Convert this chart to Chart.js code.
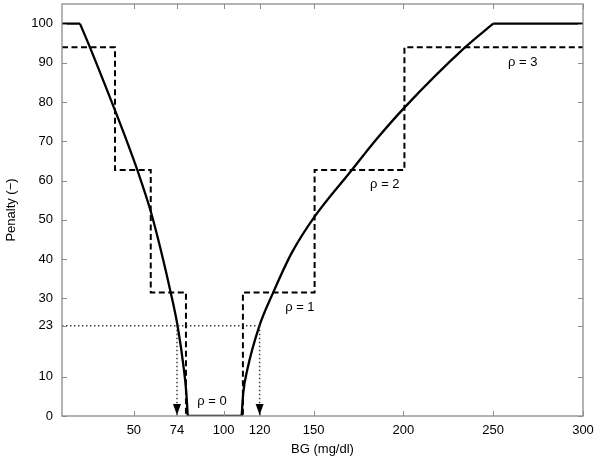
<!DOCTYPE html>
<html>
<head>
<meta charset="utf-8">
<script src="https://cdn.jsdelivr.net/npm/chart.js@4.4.1/dist/chart.umd.min.js"></script>
<style>
  html, body { margin: 0; padding: 0; background: #fff; }
  #wrap { width: 600px; height: 460px; }
</style>
</head>
<body>
<div id="wrap"><canvas id="penaltyChart" width="600" height="460"></canvas></div>
<script>
const FONT_FAMILY = "'Liberation Sans', Arial, Helvetica, sans-serif";

// axis ticks
const bgTicks = [50, 74, 100, 120, 150, 200, 250, 300];
const penaltyTicks = [0, 10, 23, 30, 40, 50, 60, 70, 80, 90, 100];

// solid penalty function, hypo branch (low BG)
const hypoBG = [20, 25.5, 39.4, 46.7, 52, 59.5, 64.9, 70.5, 74.4, 77.9, 79.2, 80];
const hypoPenalty = [100, 94, 78, 69.3, 62.6, 52, 42.5, 31.5, 22.8, 11.7, 5.9, 0];

// solid penalty function, hyper branch (high BG)
const hyperBG = [110, 110.9, 113.1, 119.6, 127.6, 137.8, 150.6, 171, 184.8, 200.6, 234, 250];
const hyperPenalty = [0, 5.9, 11.7, 22.6, 31.5, 41.5, 50.8, 62.5, 70.4, 78.6, 93.8, 100];

// flat parts of the solid function (null = gap)
const plateauBG = [10, 20, 50, 80, 110, 180, 250, 300];
const plateauPenalty = [100, 100, null, 0, 0, null, 100, 100];

// dashed step function (rho levels)
const stepBG = [10, 39.5, 39.5, 59.4, 59.4, 79, 79, 110.7, 110.7, 150.6, 150.6, 200.6, 200.6, 300];
const stepPenalty = [94, 94, 62.7, 62.7, 31.5, 31.5, 0, 0, 31.5, 31.5, 62.7, 62.7, 94, 94];

// dotted guide at penalty 23 and the two BG values it maps to
const guideBG = [10, 120];
const guidePenalty = [23, 23];
const lowArrowBG = [74, 74];
const highArrowBG = [120, 120];
const arrowPenalty = [23, 0];

// region labels, anchored in data coordinates
const regionLabels = [
  { text: 'ρ = 0', bg: 93.5, penalty: 3.6 },
  { text: 'ρ = 1', bg: 142.4, penalty: 27.6 },
  { text: 'ρ = 2', bg: 189.7, penalty: 58.9 },
  { text: 'ρ = 3', bg: 266.5, penalty: 90 },
];

function toPoints(xs, ys) {
  return xs.map((x, i) => ({ x, y: ys[i] }));
}

function noScalePadding(scale) {
  scale.paddingTop = 0;
  scale.paddingBottom = 0;
  scale.paddingLeft = 0;
  scale.paddingRight = 0;
}

const frameAndTicks = {
  id: 'frameAndTicks',
  afterDatasetsDraw(chart) {
    const { ctx, chartArea: area, scales } = chart;
    const len = 5;
    ctx.save();
    ctx.strokeStyle = '#8c8c8c';
    ctx.lineWidth = 1;
    ctx.beginPath();
    scales.x.ticks.forEach((t) => {
      const px = Math.round(scales.x.getPixelForValue(t.value)) + 0.5;
      ctx.moveTo(px, area.bottom);
      ctx.lineTo(px, area.bottom - len);
      ctx.moveTo(px, area.top);
      ctx.lineTo(px, area.top + len);
    });
    scales.y.ticks.forEach((t) => {
      const py = Math.round(scales.y.getPixelForValue(t.value)) + 0.5;
      ctx.moveTo(area.left, py);
      ctx.lineTo(area.left + len, py);
      ctx.moveTo(area.right, py);
      ctx.lineTo(area.right - len, py);
    });
    ctx.stroke();
    ctx.lineWidth = 1.3;
    ctx.strokeRect(area.left, area.top, area.right - area.left, area.bottom - area.top);
    ctx.restore();
  },
};

const arrowHeads = {
  id: 'arrowHeads',
  afterDatasetsDraw(chart) {
    const { ctx } = chart;
    ctx.save();
    ctx.fillStyle = '#000';
    chart.data.datasets.forEach((ds, i) => {
      if (!ds.arrowHead) {
        return;
      }
      const pts = chart.getDatasetMeta(i).data;
      const tip = pts[pts.length - 1];
      ctx.beginPath();
      ctx.moveTo(tip.x, tip.y - 1);
      ctx.lineTo(tip.x - 4, tip.y - 12);
      ctx.lineTo(tip.x + 4, tip.y - 12);
      ctx.closePath();
      ctx.fill();
    });
    ctx.restore();
  },
};

const regionText = {
  id: 'regionText',
  afterDatasetsDraw(chart) {
    const { ctx, scales } = chart;
    ctx.save();
    ctx.fillStyle = '#000';
    ctx.font = `13px ${FONT_FAMILY}`;
    ctx.textAlign = 'center';
    ctx.textBaseline = 'middle';
    regionLabels.forEach((lbl) => {
      ctx.fillText(lbl.text, scales.x.getPixelForValue(lbl.bg), scales.y.getPixelForValue(lbl.penalty));
    });
    ctx.restore();
  },
};

function dottedLine(data, arrowHead) {
  return {
    data,
    borderColor: '#333',
    borderWidth: 1.4,
    borderDash: [1.4, 2.6],
    pointRadius: 0,
    tension: 0,
    arrowHead,
  };
}

const solidStyle = {
  borderColor: '#000',
  borderWidth: 2.3,
  pointRadius: 0,
  cubicInterpolationMode: 'monotone',
};

new Chart(document.getElementById('penaltyChart').getContext('2d'), {
  type: 'line',
  data: {
    datasets: [
      dottedLine(toPoints(guideBG, guidePenalty), false),
      dottedLine(toPoints(lowArrowBG, arrowPenalty), true),
      dottedLine(toPoints(highArrowBG, arrowPenalty), true),
      {
        data: toPoints(stepBG, stepPenalty),
        borderColor: '#000',
        borderWidth: 2,
        borderDash: [6, 3.5],
        pointRadius: 0,
        tension: 0,
      },
      { ...solidStyle, data: toPoints(plateauBG, plateauPenalty), spanGaps: false, tension: 0 },
      { ...solidStyle, data: toPoints(hypoBG, hypoPenalty) },
      { ...solidStyle, data: toPoints(hyperBG, hyperPenalty) },
    ],
  },
  options: {
    responsive: false,
    animation: false,
    events: [],
    layout: { padding: { top: 4, right: 17, bottom: 0, left: 0 } },
    plugins: {
      legend: { display: false },
      tooltip: { enabled: false },
    },
    scales: {
      x: {
        type: 'linear',
        min: 10,
        max: 300,
        afterBuildTicks: (scale) => { scale.ticks = bgTicks.map((value) => ({ value })); },
        afterFit: (scale) => { scale.height = 44; noScalePadding(scale); },
        grid: { display: false, drawTicks: false },
        border: { display: false },
        ticks: {
          color: '#000',
          padding: 7,
          maxRotation: 0,
          autoSkip: false,
          font: { family: FONT_FAMILY, size: 13 },
        },
        title: {
          display: true,
          text: 'BG (mg/dl)',
          color: '#000',
          padding: { top: 0, bottom: 3 },
          font: { family: FONT_FAMILY, size: 13 },
        },
      },
      y: {
        type: 'linear',
        min: 0,
        max: 105,
        afterBuildTicks: (scale) => { scale.ticks = penaltyTicks.map((value) => ({ value })); },
        afterFit: (scale) => { scale.width = 62; noScalePadding(scale); },
        grid: { display: false, drawTicks: false },
        border: { display: false },
        ticks: {
          color: '#000',
          padding: 9,
          autoSkip: false,
          font: { family: FONT_FAMILY, size: 13 },
        },
        title: {
          display: true,
          text: 'Penalty (−)',
          color: '#000',
          padding: { top: 4, bottom: 0 },
          font: { family: FONT_FAMILY, size: 13 },
        },
      },
    },
  },
  plugins: [frameAndTicks, arrowHeads, regionText],
});
</script>
</body>
</html>
